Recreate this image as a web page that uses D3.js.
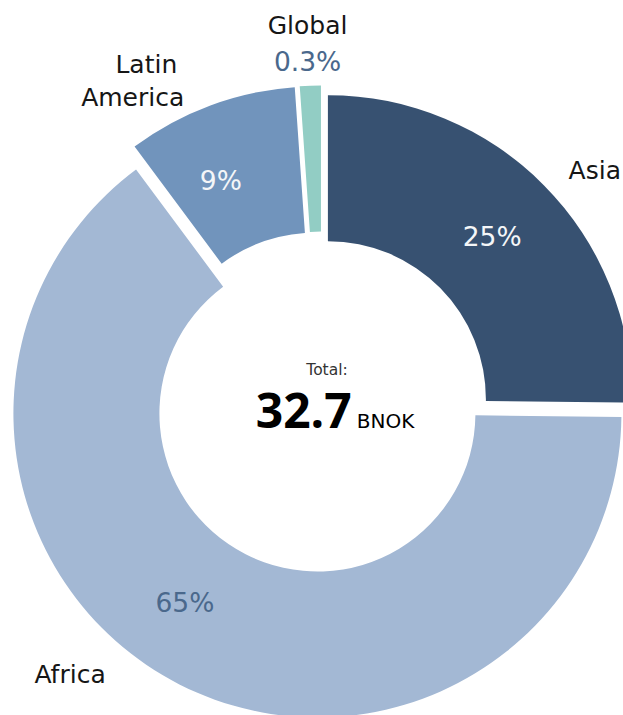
<!DOCTYPE html>
<html>
<head>
<meta charset="utf-8">
<script src="https://cdn.jsdelivr.net/npm/d3@7"></script>
<style>
  html, body { margin: 0; padding: 0; background: #ffffff; overflow: hidden; }
  svg { display: block; }
</style>
</head>
<body>
<svg id="chart" width="623" height="715"></svg>
<script>
// ---- data ----
const regions = ["Asia", "Africa", "Latin America", "Global"];
const nameLines = [["Asia"], ["Africa"], ["Latin", "America"], ["Global"]];
const shares = [25, 65, 9, 0.3];               // share of total, %
const shareLabels = ["25%", "65%", "9%", "0.3%"];
const totalCaption = "Total:";
const totalValue = "32.7";
const totalUnit = "BNOK";

// ---- styles ----
const sliceColors = ["#375171", "#a3b8d4", "#7194bc", "#92cdc4"];
const shareColors = ["#f4f6f8", "#4a688c", "#f4f6f8", "#4a688c"];
const explode = [9, 9, 16, 16];                // px each slice is pulled out
const innerLabelShift = [0, 8, -4, 0];         // degrees, inside labels
// outside name labels: polar position (deg, px) from chart centre
const outerLabel = [
  { angle: 49.2, r: 361, anchor: "middle", lineDx: [0] },
  { angle: 223.1, r: 368, anchor: "middle", lineDx: [0] },
  { angle: 338.1, r: 368, anchor: "end", lineDx: [-7, 0] },
  { angle: 357.9, r: 381, anchor: "middle", lineDx: [0] }
];
const minSliceDeg = 4;                          // slivers are widened to this

const W = 623, H = 715;
const cx = 321.5, cy = 405.5;
const outerR = 304, innerR = 158;
const rad = Math.PI / 180;

const svg = d3.select("#chart");
const g = svg.append("g").attr("transform", `translate(${cx},${cy})`);

const data = regions.map((name, i) => ({ name, share: shares[i], i }));

// pie layout, keeping the given order and starting at 12 o'clock
const arcs = d3.pie().sort(null).value(d => d.share)(data);

// give very thin slices a minimum visible width, taken from the largest slice
const minA = minSliceDeg * rad;
let deficit = 0;
arcs.forEach(a => {
  const w = a.endAngle - a.startAngle;
  a.width = w < minA ? minA : w;
  if (w < minA) deficit += minA - w;
});
const largest = d3.greatestIndex(arcs, a => a.width);
arcs[largest].width -= deficit;
let acc = 0;
arcs.forEach(a => { a.startAngle = acc; acc += a.width; a.endAngle = acc; a.padAngle = 0; });

const arcGen = d3.arc().innerRadius(innerR).outerRadius(outerR);

const offsetOf = a => {
  const m = (a.startAngle + a.endAngle) / 2;
  const d = explode[a.data.i];
  return [d * Math.sin(m), -d * Math.cos(m)];
};

// slices
g.selectAll("path.slice")
  .data(arcs)
  .join("path")
  .attr("class", "slice")
  .attr("d", arcGen)
  .attr("fill", a => sliceColors[a.data.i])
  .attr("transform", a => `translate(${offsetOf(a)})`);

const labelFont = "'DejaVu Sans', Verdana, sans-serif";

// share labels inside the ring (slices wide enough to hold them)
const inside = arcs.filter(a => a.width > 10 * rad);
const innerPos = a => {
  const m = (a.startAngle + a.endAngle) / 2 + innerLabelShift[a.data.i] * rad;
  const o = offsetOf(a);
  const rm = (innerR + outerR) / 2;
  return [o[0] + rm * Math.sin(m), o[1] - rm * Math.cos(m)];
};
g.selectAll("text.share")
  .data(inside)
  .join("text")
  .attr("class", "share")
  .attr("x", a => innerPos(a)[0])
  .attr("y", a => innerPos(a)[1])
  .attr("dy", "0.36em")
  .attr("text-anchor", "middle")
  .attr("font-family", labelFont)
  .attr("font-size", 26.5)
  .attr("fill", a => shareColors[a.data.i])
  .text(a => shareLabels[a.data.i]);

// region names outside the ring
arcs.forEach(a => {
  const i = a.data.i;
  const p = outerLabel[i];
  const x = p.r * Math.sin(p.angle * rad);
  const y = -p.r * Math.cos(p.angle * rad);
  const t = g.append("text")
    .attr("class", "name")
    .attr("text-anchor", p.anchor)
    .attr("font-family", labelFont)
    .attr("font-size", 25)
    .attr("fill", "#161616");
  nameLines[i].forEach((line, k) => {
    t.append("tspan")
      .attr("x", x + (p.lineDx[k] || 0))
      .attr("y", y + k * 33)
      .attr("dy", "0.36em")
      .text(line);
  });
  // thin slices carry their share beneath the name
  if (a.width <= 10 * rad) {
    g.append("text")
      .attr("class", "share-out")
      .attr("x", x)
      .attr("y", y + 37)
      .attr("dy", "0.36em")
      .attr("text-anchor", "middle")
      .attr("font-family", labelFont)
      .attr("font-size", 26.5)
      .attr("fill", shareColors[i])
      .text(shareLabels[i]);
  }
});

// total in the middle
g.append("text")
  .attr("x", 5.5)
  .attr("y", -30.5)
  .attr("text-anchor", "middle")
  .attr("font-family", labelFont)
  .attr("font-size", 15.5)
  .attr("fill", "#333333")
  .text(totalCaption);

const tv = g.append("text")
  .attr("x", 13.5)
  .attr("y", 22.8)
  .attr("text-anchor", "middle")
  .attr("fill", "#000000");
tv.append("tspan")
  .attr("font-family", "'Open Sans', sans-serif")
  .attr("font-weight", 700)
  .attr("font-size", 48)
  .text(totalValue);
tv.append("tspan")
  .attr("dx", 5)
  .attr("font-family", labelFont)
  .attr("font-size", 20)
  .text(totalUnit);
</script>
</body>
</html>
